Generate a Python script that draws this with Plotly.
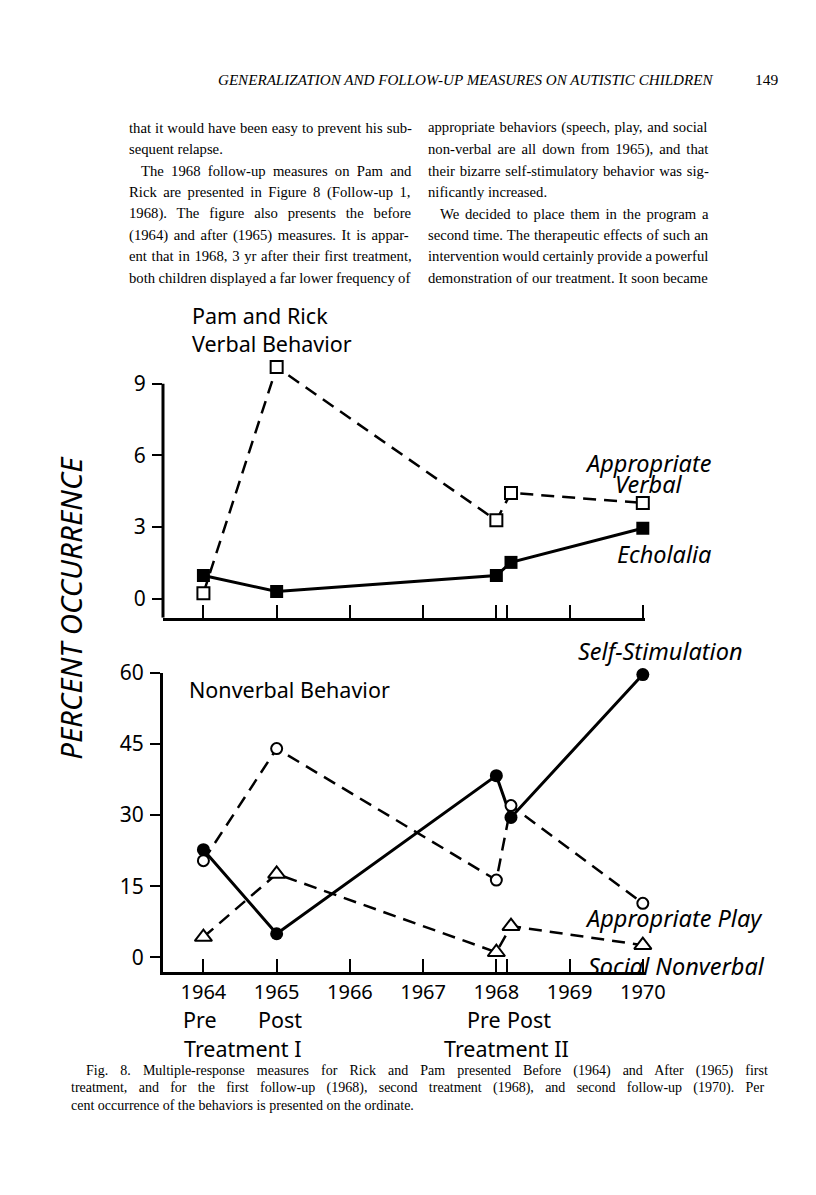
import plotly.graph_objects as go

# ---------------- data ----------------
POINT_X = [1964, 1965, 1968, 1968.2, 1970]
approp_verbal = [0.23, 9.7, 3.28, 4.43, 4.01]
echolalia = [0.97, 0.30, 0.97, 1.52, 2.95]
self_stim = [22.7, 5.0, 38.3, 29.5, 59.6]
approp_play = [20.4, 44.0, 16.3, 32.0, 11.4]
social_nonverbal = [4.3, 17.6, 1.1, 6.6, 2.6]

TICK_X = [1964, 1965, 1966, 1967, 1968, 1968.14, 1969, 1970]
TICK_X_TEXT = ["1964", "1965", "1966", "1967", "1968", "", "1969", "1970"]
TOP_Y_TICKS = [0, 3, 6, 9]
BOT_Y_TICKS = [0, 15, 30, 45, 60]

HEADER = "GENERALIZATION AND FOLLOW-UP MEASURES ON AUTISTIC CHILDREN"
PAGE_NO = "149"
LEFT_COL = [
    "that it would have been easy to prevent his sub-",
    "sequent relapse.",
    "The 1968 follow-up measures on Pam and",
    "Rick are presented in Figure 8 (Follow-up 1,",
    "1968). The figure also presents the before",
    "(1964) and after (1965) measures. It is appar-",
    "ent that in 1968, 3 yr after their first treatment,",
    "both children displayed a far lower frequency of",
]
RIGHT_COL = [
    "appropriate behaviors (speech, play, and social",
    "non-verbal are all down from 1965), and that",
    "their bizarre self-stimulatory behavior was sig-",
    "nificantly increased.",
    "We decided to place them in the program a",
    "second time. The therapeutic effects of such an",
    "intervention would certainly provide a powerful",
    "demonstration of our treatment. It soon became",
]
CAPTION = [
    "Fig. 8. Multiple-response measures for Rick and Pam presented Before (1964) and After (1965) first",
    "treatment, and for the first follow-up (1968), second treatment (1968), and second follow-up (1970). Per",
    "cent occurrence of the behaviors is presented on the ordinate.",
]

# extra word spacing (px) that justifies each printed line
LEFT_WS = [0.4, 0, 3.6, 2.8, 6.2, 1.9, 1.0, -0.3]
RIGHT_WS = [1.0, 2.3, 1.1, 0, 2.1, 0.6, -0.3, 0.2]
CAPTION_WS = [8.6, 7.8, 0]

W, H = 816, 1195
def px(x):
    return x / W
def py(y):
    return 1 - y / H

SANS = "Noto Sans"
SERIF = "Liberation Serif"

fig = go.Figure()

# top panel
fig.add_trace(go.Scatter(
    x=POINT_X, y=echolalia, mode="lines+markers", xaxis="x", yaxis="y",
    line=dict(color="black", width=3),
    marker=dict(symbol="square", size=13, color="black"),
    cliponaxis=False, showlegend=False))
fig.add_trace(go.Scatter(
    x=POINT_X, y=approp_verbal, mode="lines+markers", xaxis="x", yaxis="y",
    line=dict(color="black", width=2.5, dash="13px,8px"),
    marker=dict(symbol="square", size=12, color="white", line=dict(color="black", width=2)),
    cliponaxis=False, showlegend=False))

# bottom panel
fig.add_trace(go.Scatter(
    x=POINT_X, y=self_stim, mode="lines+markers", xaxis="x2", yaxis="y2",
    line=dict(color="black", width=3),
    marker=dict(symbol="circle", size=13, color="black"),
    cliponaxis=False, showlegend=False))
fig.add_trace(go.Scatter(
    x=POINT_X, y=approp_play, mode="lines+markers", xaxis="x2", yaxis="y2",
    line=dict(color="black", width=2.5, dash="13px,8px"),
    marker=dict(symbol="circle", size=11, color="white", line=dict(color="black", width=2)),
    cliponaxis=False, showlegend=False))
fig.add_trace(go.Scatter(
    x=POINT_X, y=social_nonverbal, mode="lines+markers", xaxis="x2", yaxis="y2",
    line=dict(color="black", width=2.5, dash="13px,8px"),
    marker=dict(symbol="triangle-up", size=15, color="white", line=dict(color="black", width=2)),
    cliponaxis=False, showlegend=False))

XDOM = [px(167.3), px(661.9)]
XRANGE = [1963.448, 1970.028]
axis_common = dict(showgrid=False, zeroline=False, linecolor="black", tickcolor="black")

fig.update_layout(
    width=W, height=H, margin=dict(l=0, r=0, t=0, b=0),
    paper_bgcolor="white", plot_bgcolor="white",
    xaxis=dict(domain=XDOM, range=XRANGE, anchor="y", showline=True, linewidth=3,
               ticks="inside", tickvals=TICK_X, ticklen=13, tickwidth=2,
               showticklabels=False, **axis_common),
    yaxis=dict(domain=[py(610.3), py(342.05)], range=[-0.794, 10.3], anchor="x", showline=False,
               ticks="outside", tickvals=TOP_Y_TICKS, ticklen=10, tickwidth=2,
               ticklabelstandoff=2,
               tickfont=dict(family=SANS, size=21, color="black"), **axis_common),
    xaxis2=dict(domain=XDOM, range=XRANGE, anchor="y2", showline=True, linewidth=3,
                ticks="inside", tickvals=TICK_X, ticktext=TICK_X_TEXT, ticklen=13, tickwidth=2,
                ticklabelstandoff=0,
                tickfont=dict(family=SANS, size=20, color="black"), **axis_common),
    yaxis2=dict(domain=[py(969.6), py(665.99)], range=[-3.15, 60], anchor="x2", showline=True,
                linewidth=3, ticks="outside", tickvals=BOT_Y_TICKS, ticklen=10, tickwidth=2,
                ticklabelstandoff=2,
                tickfont=dict(family=SANS, size=21, color="black"), **axis_common),
)

# top panel vertical axis line (stops at the 9 tick)
fig.add_shape(type="line", xref="x domain", yref="y", x0=0, x1=0, y0=-0.794, y1=9,
              line=dict(color="black", width=3))

ann = []
def text(x, y, s, size, family=SANS, xanchor="center", italic=False, angle=0,
         wordspacing=0, align="center"):
    if wordspacing:
        s = '<span style="word-spacing:%.1fpx">%s</span>' % (wordspacing, s)
    if italic:
        s = "<i>" + s + "</i>"
    ann.append(dict(x=px(x), y=py(y), xref="paper", yref="paper", text=s, showarrow=False,
                    xanchor=xanchor, yanchor="middle", textangle=angle, align=align,
                    font=dict(family=family, size=size, color="black")))

# page header
text(221.3, 65.8, HEADER, 15.1, family=SERIF, xanchor="left", italic=True)
text(801.9, 65.8, PAGE_NO, 15.5, family=SERIF, xanchor="right")

# body text
for i, line in enumerate(LEFT_COL):
    x0 = 142.5 if i == 2 else 130.0
    text(x0, 114.4 + 21.69 * i, line, 14.7, family=SERIF, xanchor="left",
         wordspacing=LEFT_WS[i])
for i, line in enumerate(RIGHT_COL):
    x0 = 449.4 if i == 4 else 437.0
    text(x0, 114.4 + 21.69 * i, line, 14.7, family=SERIF, xanchor="left",
         wordspacing=RIGHT_WS[i])

# chart labels
text(195.3, 319.0, "Pam and Rick<br>Verbal Behavior", 21.5, xanchor="left", align="left")
text(666.1, 453.5, "Appropriate", 23.5, italic=True)
text(666.1, 475.3, "Verbal", 23.5, italic=True)
text(681.6, 545.5, "Echolalia", 23.5, italic=True)
text(192.2, 683.2, "Nonverbal Behavior", 21.5, xanchor="left")
text(677.5, 644.2, "Self-Stimulation", 23.5, italic=True)
text(692.0, 914.5, "Appropriate Play", 23.5, italic=True)
text(694.1, 962.8, "Social Nonverbal", 23.5, italic=True)
text(73.0, 600.2, "PERCENT OCCURRENCE", 29.5, italic=True, angle=-90)

text(205.5, 1017.5, "Pre", 21.5)
text(287.6, 1017.5, "Post", 21.5)
text(249.0, 1047.0, "Treatment I", 21.5)
text(497.0, 1017.5, "Pre", 21.5)
text(543.0, 1017.5, "Post", 21.5)
text(519.4, 1047.0, "Treatment II", 21.5)

# caption
text(86.5, 1069.8, CAPTION[0], 14, family=SERIF, xanchor="left", wordspacing=CAPTION_WS[0])
text(70.9, 1087.0, CAPTION[1], 14, family=SERIF, xanchor="left", wordspacing=CAPTION_WS[1])
text(70.9, 1104.3, CAPTION[2], 14, family=SERIF, xanchor="left", wordspacing=CAPTION_WS[2])

fig.update_layout(annotations=ann)
fig.write_html(
    "out.html",
    config={"displayModeBar": False},
    post_script="document.body.style.margin='0';document.body.style.padding='0';"
                "document.body.style.overflow='hidden';",
)
